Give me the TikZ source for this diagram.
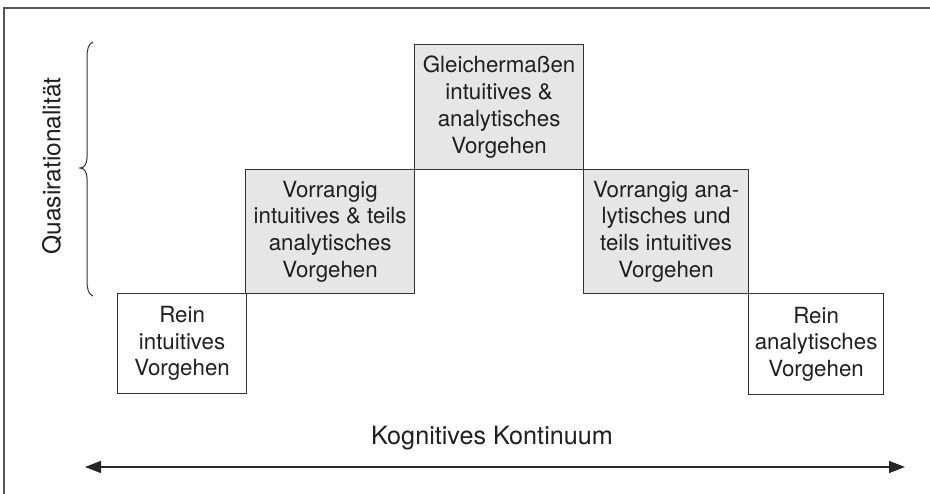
\documentclass[tikz,border=0pt]{standalone}
\usepackage{fontspec}
\setmainfont{TeX Gyre Heros}
\usetikzlibrary{arrows.meta}
\definecolor{boxfill}{HTML}{E6E6E6}
\definecolor{linecol}{HTML}{333333}
\definecolor{framecol}{HTML}{555555}
\begin{document}
\begin{tikzpicture}[x=1pt,y=-1pt,
  txt/.style={font=\fontsize{22.3}{26.7}\selectfont, text=black!88},
  lbl/.style={font=\fontsize{24.5}{28}\selectfont, text=black!88},
  plainbox/.style={txt, draw=linecol, line width=1.2pt, align=center, anchor=north west, inner sep=0pt},
  graybox/.style={plainbox, fill=boxfill},
  axis/.style={draw=black!85, line width=1.3pt, {Triangle[length=16pt,width=12pt]}-{Triangle[length=16pt,width=12pt]}}
]
\useasboundingbox (0,0) rectangle (930,494);
% frame (only top and left edges visible)
\coordinate (fbl) at (4,494);
\coordinate (ftl) at (4,8);
\coordinate (ftr) at (930,8);
\draw[framecol, line width=1.6pt] (fbl) -- (ftl) -- (ftr);

\node[plainbox, minimum width=129pt, minimum height=100pt] (b1) at (117,293) {Rein\\intuitives\\Vorgehen};
\node[graybox, minimum width=169pt, minimum height=124pt] (b2) at (245,169) {Vorrangig\\intuitives \& teils\\analytisches\\Vorgehen};
\node[graybox, minimum width=169pt, minimum height=125pt] (b3) at (414,44) {Gleichermaßen\\intuitives \&\\analytisches\\Vorgehen};
\node[graybox, minimum width=165pt, minimum height=124pt] (b4) at (583,169) {Vorrangig ana-\\lytisches und\\teils intuitives\\Vorgehen};
\node[plainbox, minimum width=135pt, minimum height=101pt] (b5) at (748,293) {Rein\\analytisches\\Vorgehen};

% brace
\draw[black!80, line width=1pt] (93,42) .. controls (88,44) and (87,50) .. (87,58) -- (87,158)
  .. controls (87,164) and (84,168) .. (80,168)
  .. controls (84,168) and (87,172) .. (87,178) -- (87,280)
  .. controls (87,288) and (88,294) .. (93,296);
\node[lbl, rotate=90] (qr) at (52,166) {Quasirationalität};

% axis
\coordinate (al) at (85,467);
\coordinate (ar) at (905,467);
\draw[axis] (al) -- (ar);
\node[lbl, font=\fontsize{25.2}{28}\selectfont] (kk) at (492,438) {Kognitives Kontinuum};
\end{tikzpicture}
\end{document}
